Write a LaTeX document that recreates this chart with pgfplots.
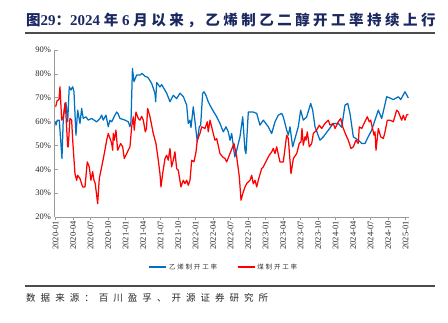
\documentclass[border=0pt]{standalone}
\usepackage{fontspec}
\usepackage{pgfplots}
\pgfplotsset{compat=1.18}
\setmainfont{Liberation Serif}
\newfontfamily\cjk{Noto Sans CJK SC}
\newfontfamily\cjktitle{Noto Sans CJK SC}[LetterSpace=24]
\newfontfamily\cjksrc{Noto Sans CJK SC}[LetterSpace=53]
\newfontfamily\cjkleg{Noto Sans CJK SC}[LetterSpace=28]
\definecolor{cblue}{HTML}{0070C0}
\definecolor{cred}{HTML}{FF0000}
\definecolor{ctitle}{HTML}{1A2760}
\definecolor{caxis}{HTML}{9A9A9A}
\begin{document}
\begin{tikzpicture}
\begin{axis}[
  at={(54.5pt,-217pt)}, anchor=south west,
  scale only axis, width=354.5pt, height=167pt,
  xmin=-0.2, xmax=60.6, ymin=20, ymax=90,
  axis x line*=bottom, axis y line*=left,
  axis line style={caxis, line width=0.8pt},
  tick style={caxis, line width=0.6pt},
  major tick length=3pt,
  xtick={0,3,...,60},
  xticklabels={2020-01,2020-04,2020-07,2020-10,2021-01,2021-04,2021-07,2021-10,2022-01,2022-04,2022-07,2022-10,2023-01,2023-04,2023-07,2023-10,2024-01,2024-04,2024-07,2024-10,2025-01},
  xticklabel style={rotate=90, anchor=east, font=\fontsize{8.5}{9}\selectfont, text=black!85, inner sep=1pt},
  ytick={20,30,...,90},
  yticklabel={\pgfmathprintnumber{\tick}\%},
  yticklabel style={font=\fontsize{8.5}{9}\selectfont, text=black!85},
  /pgf/number format/assume math mode=true,
  tick align=inside,
  xtick align=outside,
  legend style={at={(0.478,-0.30)}, anchor=center, draw=none, fill=none,
    font=\cjkleg\fontsize{6.5}{7}\selectfont, text=black!80, legend columns=2,
    /tikz/every even column/.append style={column sep=18pt}},
  legend cell align=left,
  every axis plot/.append style={line width=1.25pt, line join=round},
]
\addplot[cblue, mark=none] coordinates {
(0,59.9)(0.05,58.5)(0.27,60.6)(0.62,60.6)(0.86,52.2)(1.08,44.5)(1.30,60.6)(1.60,67.6)(1.77,67.9)(2.06,59.9)(2.33,74.6)(2.62,73.2)(2.92,74.6)(3.14,72.5)(3.48,54.3)(3.77,64.8)(4.17,59.2)(4.46,65.5)(4.73,61.3)(5.20,62)(5.59,60.6)(6.17,61.3)(7.03,59.9)(7.60,61.3)(7.89,62.7)(8.16,60.6)(8.63,62.7)(9.02,57.8)(9.31,60.6)(9.61,59.9)(10.17,62.7)(10.46,64)(10.69,63.4)(11.03,61.3)(11.89,60.6)(12.45,59.9)(12.74,57.8)(12.92,60)(13.17,82.3)(13.43,76.7)(13.89,79.5)(14.46,79.5)(14.80,80.2)(15.32,79)(15.83,78.5)(16.47,76)(17.03,71.8)(17.15,68.3)(17.32,76.4)(17.89,74.5)(18.18,75.5)(19.04,71.9)(19.61,68.3)(20.17,71)(20.75,69.6)(21.32,71.9)(21.89,70.5)(22.47,66.9)(22.74,59.2)(23.04,60.6)(23.21,57.5)(23.60,66.2)(23.77,62.7)(24.29,51.5)(24.63,57.8)(24.87,58.5)(25.21,71.8)(25.44,72.5)(25.78,71)(26.17,68.3)(26.76,65.5)(27.62,62)(28.18,59.2)(28.75,55.7)(29.21,57.8)(29.61,55.7)(29.90,52.2)(30.19,55)(30.72,45.2)(31.05,48)(31.61,53.6)(32.08,62)(32.47,48)(32.64,46.6)(33.04,64)(33.89,64)(34.48,63.4)(35.04,58.5)(35.61,60.6)(36.47,57.8)(37.05,55)(37.62,59.9)(38.18,62.7)(38.77,63.4)(39.04,62)(39.62,56.4)(39.90,54.3)(40.19,57.8)(40.65,49.4)(41.05,52.9)(41.61,57.8)(42.02,64.8)(42.47,60.6)(43.05,62)(43.74,67.6)(44.08,64.8)(44.48,57.8)(45.33,52.2)(45.90,53.6)(46.76,56.4)(47.62,59.2)(48.47,59.2)(49.06,57.6)(49.62,66.9)(50.09,67.6)(50.48,63.4)(51.05,53.6)(51.90,52.2)(52.49,50.8)(53.05,50.8)(53.45,52.9)(54.20,56.4)(54.77,60.6)(55.34,64.8)(55.92,61.3)(56.78,70.4)(57.34,69.9)(57.91,69.2)(58.77,70.4)(59.18,69.2)(59.91,72.5)(60.48,69.9)
};
\addlegendentry{乙烯制开工率}
\addplot[cred, mark=none] coordinates {
(0,66.2)(0.22,68.6)(0.57,69.3)(0.74,74.6)(1.03,60.6)(1.30,62)(1.65,67.9)(2.06,49.4)(2.16,49.4)(2.45,61.3)(2.74,60.6)(2.92,52.2)(3.31,38.2)(3.60,35.4)(3.77,37.5)(4.17,36.1)(4.63,32.6)(5.03,32.6)(5.42,43.1)(5.76,41)(6.05,35.4)(6.35,39)(6.57,35.4)(6.79,34)(7.20,25.6)(7.48,36.1)(7.89,41)(8.34,46.6)(8.75,52.2)(9.02,55)(9.43,52.2)(9.61,50.8)(9.78,48)(9.88,55)(10.05,52.2)(10.34,56.4)(10.63,48)(11.15,50.8)(11.49,49.4)(11.77,44.5)(12.18,46.6)(12.74,49.4)(13.04,57.8)(13.31,62)(13.48,56.4)(13.77,64)(14.17,61.3)(14.46,60.6)(14.75,62.2)(15.03,60.6)(15.37,55.7)(15.57,57)(15.78,65.5)(16.18,62)(16.74,55)(17.20,50.8)(17.60,43.8)(17.89,38.2)(18.06,32.6)(18.35,38.2)(18.75,44.5)(19.04,45.9)(19.31,43.8)(19.61,48.7)(19.89,41)(20.17,43.8)(20.46,47.3)(20.75,40.3)(21.03,39.6)(21.49,32.6)(21.89,35.4)(22.18,34)(22.47,35.4)(22.74,33.3)(23.04,35.4)(23.33,43.8)(23.72,43.1)(24.07,47.3)(24.29,52.2)(24.75,55)(25.04,57.8)(25.61,57.1)(26.00,59.9)(26.17,55.7)(26.47,60.6)(27.03,55)(27.32,52.2)(27.62,52.9)(28.18,46.6)(28.64,45.2)(29.04,44.5)(29.33,43.1)(29.90,46.6)(30.58,50.8)(31.05,45.2)(31.50,36.8)(31.79,27)(32.08,29.7)(32.47,32.6)(32.76,34)(33.33,35.4)(33.62,37.5)(33.89,33.9)(34.19,35.4)(34.48,32.6)(34.75,35.4)(35.33,40.3)(35.61,41)(36.18,43.8)(36.63,45.9)(37.05,47.3)(37.32,48.7)(37.62,46.6)(37.90,49.4)(38.47,43.1)(39.04,43.1)(39.62,54.3)(39.90,52.9)(40.36,38.2)(40.77,44.5)(41.34,46.6)(41.78,50.8)(42.08,51.5)(42.25,57.1)(42.47,50.1)(42.76,53.6)(42.93,52.2)(43.16,55.7)(43.50,49.4)(43.91,50.8)(44.19,55)(44.77,56.4)(45.21,58.5)(45.63,57.1)(46.19,59.2)(46.76,60.6)(47.05,58.5)(47.62,59.2)(47.91,57.1)(48.47,59.9)(48.89,61.3)(49.23,57.8)(49.79,54.3)(50.19,52.2)(50.65,48.7)(51.05,49.4)(51.51,52.2)(51.90,50.8)(52.07,57.8)(52.49,57.1)(53.05,60)(53.45,62)(53.79,59.9)(54.03,60.6)(54.60,54.3)(54.77,55.7)(54.94,48)(55.34,57.1)(55.75,53.6)(56.20,52.9)(56.49,55.7)(56.88,60.6)(57.34,60.6)(57.91,59.9)(58.49,64.8)(58.77,64.1)(59.34,60.6)(59.62,62.7)(59.91,60.6)(60.19,62.7)(60.48,63.1)
};
\addlegendentry{煤制开工率}
\end{axis}
% title
\node[anchor=west,inner sep=0pt,text=ctitle,font=\bfseries] at (26pt,-20pt)
 {{\cjktitle\fontsize{14.5}{16}\selectfont 图}{\fontsize{15}{16}\selectfont 29}{\cjktitle\fontsize{14.5}{16}\selectfont ：}{\fontsize{15}{16}\selectfont 2024 }{\cjktitle\fontsize{14.5}{16}\selectfont 年}{\fontsize{15}{16}\selectfont{} 6 }{\cjktitle\fontsize{14.5}{16}\selectfont 月以来，乙烯制乙二醇开工率持续上行}};
\draw[line width=1.5pt,color=black!70] (25pt,-33pt) -- (435pt,-33pt);
\draw[line width=1.2pt,color=black!70] (25pt,-286pt) -- (435pt,-286pt);
\node[anchor=west,inner sep=0pt,text=black!85] at (26pt,-298pt)
 {\cjksrc\fontsize{9.5}{11}\selectfont 数据来源：百川盈孚、开源证券研究所};
\pgfresetboundingbox
\path[use as bounding box] (0pt,0pt) rectangle (448pt,-323pt);
\end{tikzpicture}
\end{document}
